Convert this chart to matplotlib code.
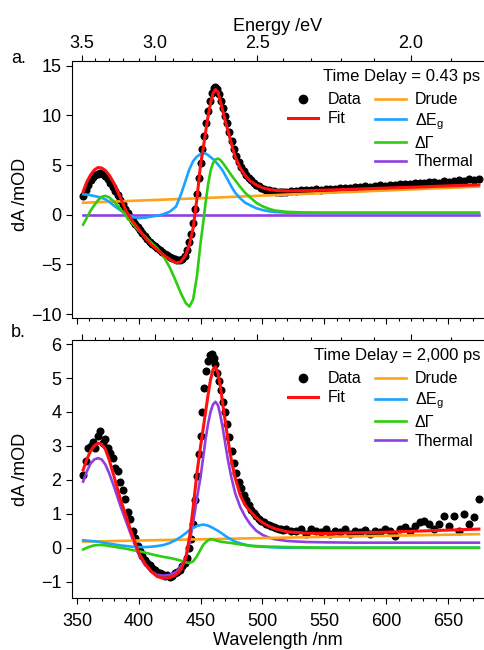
import numpy as np
import matplotlib
matplotlib.use("Agg")
import matplotlib.pyplot as plt
from matplotlib.ticker import MultipleLocator, FixedLocator, FormatStrFormatter
from matplotlib.lines import Line2D

plt.rcParams.update({
    "font.family": ["Liberation Sans", "DejaVu Sans"],
    "mathtext.default": "regular",
    "axes.linewidth": 0.8,
})

# ---- data ----
wl_data = [355, 357, 359, 361, 363, 365, 367, 369, 371, 373,
           375, 377, 379, 381, 383, 385, 387, 389, 391, 393,
           395, 397, 399, 401, 403, 405, 407, 409, 411, 413,
           415, 417, 419, 421, 423, 425, 427, 429, 431, 433,
           435, 437, 439, 441,
           442.5, 444, 445.5, 447, 448.5, 450, 451.5, 453, 454.5, 456,
           457.5, 459, 460.5, 462, 463.5, 465, 466.5, 468, 469.5, 471,
           473, 475, 477, 479, 481, 483, 485, 487, 489, 491, 493, 495,
           497, 499, 501, 503, 505, 507, 509, 511, 513, 515, 517, 519,
           523, 527, 531, 535, 539, 543, 547, 551, 555, 559,
           563, 567, 571, 575, 579, 583, 587, 591, 595, 599,
           603, 607, 611, 615, 619, 623, 627, 631, 635, 639,
           643, 647, 651, 655, 659, 663, 667, 671, 675]

dA_a = [1.9, 2.5, 3.0, 3.45, 3.75, 3.95, 4.1, 4.15, 4.05, 3.85,
        3.55, 3.2, 2.8, 2.4, 1.95, 1.5, 1.05, 0.6, 0.15, -0.25,
        -0.6, -0.95, -1.25, -1.55, -1.85, -2.15, -2.45, -2.7, -2.95, -3.15,
        -3.35, -3.55, -3.75, -3.95, -4.1, -4.25, -4.4, -4.5, -4.55, -4.55,
        -4.45, -4.15, -3.6, -2.8,
        -1.9, -0.8, 0.6, 2.1, 3.7, 5.2, 6.6, 7.9, 9.2, 10.4,
        11.4, 12.2, 12.75, 12.9, 12.7, 12.15, 11.45, 10.7, 9.95, 9.2,
        8.3, 7.4, 6.6, 5.9, 5.3, 4.8, 4.35, 4.0, 3.7, 3.45, 3.2, 3.0,
        2.85, 2.7, 2.6, 2.5, 2.45, 2.4, 2.35, 2.32, 2.3, 2.3, 2.3, 2.32,
        2.35, 2.42, 2.45, 2.48, 2.5, 2.55, 2.52, 2.6, 2.62, 2.6,
        2.68, 2.72, 2.7, 2.78, 2.8, 2.85, 2.82, 2.9, 2.95, 2.92,
        3.0, 3.02, 3.08, 3.05, 3.12, 3.15, 3.2, 3.18, 3.25, 3.3,
        3.22, 3.35, 3.3, 3.42, 3.5, 3.35, 3.55, 3.45, 3.6]

dA_b = [2.15, 2.55, 2.95, 3.0, 3.12, 2.95, 3.3, 3.45, 3.1, 3.2,
        2.95, 2.8, 2.65, 2.35, 2.25, 1.95, 1.7, 1.45, 1.05, 0.85,
        0.5, 0.3, 0.05, -0.1, -0.25, -0.35, -0.45, -0.5, -0.6, -0.65,
        -0.7, -0.75, -0.78, -0.82, -0.8, -0.85, -0.82, -0.75, -0.72, -0.65,
        -0.55, -0.45, -0.3, 0.0,
        0.25, 0.7, 1.4, 2.1, 2.75, 3.3, 4.0, 4.7, 5.2, 5.5,
        5.68, 5.72, 5.58, 5.4, 5.15, 4.9, 4.65, 4.3, 4.0, 3.65,
        3.25, 2.85, 2.5, 2.2, 1.95, 1.75, 1.55, 1.4, 1.25, 1.12, 1.02, 0.93,
        0.86, 0.8, 0.75, 0.7, 0.66, 0.63, 0.6, 0.58, 0.56, 0.55, 0.53, 0.55,
        0.5, 0.48, 0.55, 0.42, 0.55, 0.5, 0.45, 0.55, 0.4, 0.5,
        0.45, 0.55, 0.4, 0.5, 0.45, 0.52, 0.42, 0.5, 0.45, 0.55,
        0.5, 0.35, 0.55, 0.6, 0.5, 0.65, 0.75, 0.8, 0.7, 0.55,
        0.7, 0.95, 0.65, 0.95, 0.5, 1.0, 0.7, 0.9, 1.45]

wl_fit = [355, 358, 361, 364, 367, 370, 373, 376,
          380, 385, 390, 395, 400, 405, 410, 415, 420, 425, 430,
          434, 438, 441, 444, 447,
          450, 452, 454, 456, 458, 460, 462, 464, 466, 468, 470, 472,
          475, 478, 482, 486, 490, 495, 500, 505, 510, 520,
          535, 550, 575, 600, 625, 650, 675]

fit_a = [2.3, 3.3, 4.0, 4.5, 4.75, 4.7, 4.45, 4.0,
         3.15, 1.75, 0.3, -0.65, -1.45, -2.3, -3.0, -3.55, -4.05, -4.5, -4.85,
         -4.75, -4.05, -3.0, -1.3, 1.6,
         5.1, 6.6, 8.3, 9.9, 11.2, 12.2, 12.6, 12.35, 11.4, 10.4, 9.4, 8.5,
         7.1, 5.8, 4.7, 3.95, 3.4, 3.0, 2.7, 2.55, 2.45, 2.38,
         2.42, 2.47, 2.57, 2.68, 2.78, 2.9, 3.0]
egap_a = [2.05, 2.02, 1.96, 1.88, 1.8, 1.7, 1.55, 1.3,
          0.9, 0.45, 0.1, -0.25, -0.35, -0.3, -0.2, -0.1, 0.05, 0.3, 0.8,
          2.0, 3.5, 4.6, 5.4, 5.85,
          6.1, 6.18, 6.15, 6.0, 5.8, 5.6, 5.35, 5.05, 4.75, 4.4, 3.95, 3.5,
          2.8, 2.2, 1.65, 1.2, 0.95, 0.65, 0.47, 0.35, 0.27, 0.2,
          0.18, 0.18, 0.18, 0.18, 0.18, 0.18, 0.18]
gamma_a = [-1.0, -0.3, 0.4, 0.95, 1.45, 1.8, 1.9, 1.75,
           1.3, 0.6, -0.2, -0.9, -1.6, -2.2, -2.8, -3.4, -4.2, -5.3, -6.7,
           -7.9, -8.9, -9.25, -8.5, -6.2,
           -2.8, -0.9, 1.2, 3.0, 4.4, 5.2, 5.55, 5.65, 5.5, 5.2, 4.85, 4.5,
           3.95, 3.45, 2.8, 2.2, 1.75, 1.2, 0.85, 0.6, 0.42, 0.28,
           0.22, 0.2, 0.2, 0.2, 0.2, 0.2, 0.2]

fit_b = [2.29, 2.6, 2.85, 3.0, 3.08, 3.05, 2.9, 2.6,
         2.1, 1.45, 0.9, 0.35, -0.15, -0.47, -0.7, -0.85, -0.9, -0.88, -0.8,
         -0.65, -0.3, 0.3, 1.2, 2.2,
         3.0, 3.5, 4.0, 4.5, 4.95, 5.25, 5.33, 5.15, 4.75, 4.2, 3.7, 3.2,
         2.55, 2.05, 1.55, 1.25, 1.08, 0.88, 0.74, 0.64, 0.56, 0.47,
         0.43, 0.42, 0.44, 0.46, 0.49, 0.52, 0.55]
thermal_b = [1.95, 2.25, 2.48, 2.6, 2.64, 2.6, 2.45, 2.2,
             1.8, 1.25, 0.75, 0.25, -0.2, -0.5, -0.7, -0.8, -0.82, -0.8, -0.72,
             -0.55, -0.3, 0.15, 0.75, 1.45,
             2.1, 2.65, 3.2, 3.65, 4.0, 4.22, 4.3, 4.2, 3.9, 3.5, 3.05, 2.6,
             2.05, 1.6, 1.2, 0.92, 0.7, 0.5, 0.38, 0.3, 0.25, 0.2,
             0.17, 0.16, 0.15, 0.15, 0.15, 0.15, 0.15]
egap_b = [0.22, 0.21, 0.2, 0.19, 0.18, 0.16, 0.14, 0.12,
          0.1, 0.07, 0.05, 0.03, 0.02, 0.02, 0.03, 0.05, 0.08, 0.14, 0.23,
          0.32, 0.43, 0.52, 0.59, 0.64,
          0.67, 0.68, 0.67, 0.65, 0.62, 0.58, 0.54, 0.5, 0.45, 0.4, 0.35, 0.3,
          0.24, 0.18, 0.13, 0.09, 0.06, 0.04, 0.03, 0.02, 0.01, 0.0,
          0.0, 0.0, 0.0, 0.0, 0.0, 0.0, 0.0]
gamma_b = [-0.05, 0.0, 0.04, 0.07, 0.08, 0.08, 0.07, 0.05,
           0.03, 0.0, -0.03, -0.07, -0.1, -0.14, -0.19, -0.23, -0.27, -0.3, -0.34,
           -0.38, -0.43, -0.45, -0.4, -0.25,
           -0.05, 0.08, 0.16, 0.22, 0.25, 0.24, 0.22, 0.2, 0.18, 0.17, 0.16, 0.15,
           0.14, 0.12, 0.1, 0.08, 0.06, 0.05, 0.04, 0.03, 0.03, 0.02,
           0.01, 0.0, 0.0, 0.0, 0.0, 0.0, 0.0]

wl_flat = [355, 450, 550, 675]
drude_a = [1.2, 1.66, 2.18, 2.83]
thermal_a = [0.0, 0.0, 0.0, 0.0]
drude_b = [0.18, 0.25, 0.32, 0.40]

ev_major = [2.0, 2.5, 3.0, 3.5]
ev_minor = [1.9, 2.1, 2.2, 2.3, 2.4, 2.6, 2.7, 2.8, 2.9, 3.1, 3.2, 3.3, 3.4]

c_fit = "#ff1010"
c_drude = "#ffa31a"
c_egap = "#1aa3ff"
c_gamma = "#2ecc12"
c_therm = "#8f3fe0"

HC = 1239.84


def to_ev(x):
    x = np.asarray(x, dtype=float)
    with np.errstate(divide="ignore"):
        return HC / x


W, H = 484, 650
fig = plt.figure(figsize=(W / 100, H / 100), dpi=100)


def rect(l, t, r, b):
    return [l / W, 1 - b / H, (r - l) / W, (b - t) / H]


ax_a = fig.add_axes(rect(72, 61, 483, 318))
ax_b = fig.add_axes(rect(72, 340, 483, 598))


def panel(ax, data, fit, drude, egap, gamma, therm_x, therm, delay, ylim, ystep, bottom_labels, top_labels):
    ax.plot(wl_data, data, "o", color="k", ms=5.8, mew=0, zorder=2)
    ax.plot(therm_x, therm, color=c_therm, lw=1.9, zorder=3)
    ax.plot(wl_flat, drude, color=c_drude, lw=1.9, zorder=3)
    ax.plot(wl_fit, egap, color=c_egap, lw=1.9, zorder=3)
    ax.plot(wl_fit, gamma, color=c_gamma, lw=1.9, zorder=3)
    ax.plot(wl_fit, fit, color=c_fit, lw=2.2, zorder=4)

    ax.set_xlim(346, 678.3)
    ax.set_ylim(*ylim)
    ax.spines["right"].set_visible(False)
    ax.spines["top"].set_visible(False)
    ax.xaxis.set_major_locator(MultipleLocator(50))
    ax.xaxis.set_minor_locator(MultipleLocator(10))
    ax.yaxis.set_major_locator(MultipleLocator(ystep))
    ax.tick_params(which="major", direction="out", length=4.5, width=0.8, labelsize=13, pad=3)
    ax.tick_params(which="minor", direction="out", length=2.5, width=0.8)
    ax.tick_params(axis="x", labelbottom=bottom_labels, pad=6)

    sec = ax.secondary_xaxis("top", functions=(to_ev, to_ev))
    sec.xaxis.set_major_locator(FixedLocator(ev_major))
    sec.xaxis.set_minor_locator(FixedLocator(ev_minor))
    sec.xaxis.set_major_formatter(FormatStrFormatter("%.1f"))
    sec.spines["top"].set_linewidth(0.8)
    sec.tick_params(which="major", direction="out", length=4.5, width=0.8, labelsize=13, pad=2)
    sec.tick_params(which="minor", direction="out", length=2.5, width=0.8)
    sec.tick_params(labeltop=top_labels)
    if top_labels:
        sec.set_xlabel("Energy /eV", fontsize=13, labelpad=3)

    ax.set_ylabel("dA /mOD", fontsize=13)
    ax.text(0.993, 1 - 15 / 257, "Time Delay = " + delay, transform=ax.transAxes,
            ha="right", va="center", fontsize=12)

    handles = [
        Line2D([], [], marker="o", ls="none", color="k", ms=7, mew=0),
        Line2D([], [], color=c_fit, lw=2.2),
        Line2D([], [], alpha=0),
        Line2D([], [], alpha=0),
        Line2D([], [], color=c_drude, lw=1.9),
        Line2D([], [], color=c_egap, lw=1.9),
        Line2D([], [], color=c_gamma, lw=1.9),
        Line2D([], [], color=c_therm, lw=1.9),
    ]
    labels = ["Data", "Fit", " ", " ", "Drude", "ΔE$_g$", "ΔΓ", "Thermal"]
    ax.legend(handles, labels, ncol=2, loc="upper right", bbox_to_anchor=(0.976, 0.878),
              frameon=False, fontsize=11.5, handlelength=1.9, handletextpad=0.55,
              columnspacing=0.9, labelspacing=0.24, borderpad=0, borderaxespad=0)


panel(ax_a, dA_a, fit_a, drude_a, egap_a, gamma_a, wl_flat, thermal_a, "0.43 ps",
      (-10.4, 15.47), 5, False, True)
panel(ax_b, dA_b, fit_b, drude_b, egap_b, gamma_b, wl_fit, thermal_b, "2,000 ps",
      (-1.48, 6.12), 1, True, False)

ax_a.yaxis.set_label_coords(-0.105, 0.48)
ax_b.yaxis.set_label_coords(-0.105, 0.5)
ax_b.set_xlabel("Wavelength /nm", fontsize=13)
ax_b.xaxis.set_label_coords(0.5, -0.132)

fig.text(11 / W, 1 - 63 / H, "a.", fontsize=13, ha="left", va="baseline")
fig.text(11 / W, 1 - 337 / H, "b.", fontsize=13, ha="left", va="baseline")

fig.savefig("out.png", dpi=100)
